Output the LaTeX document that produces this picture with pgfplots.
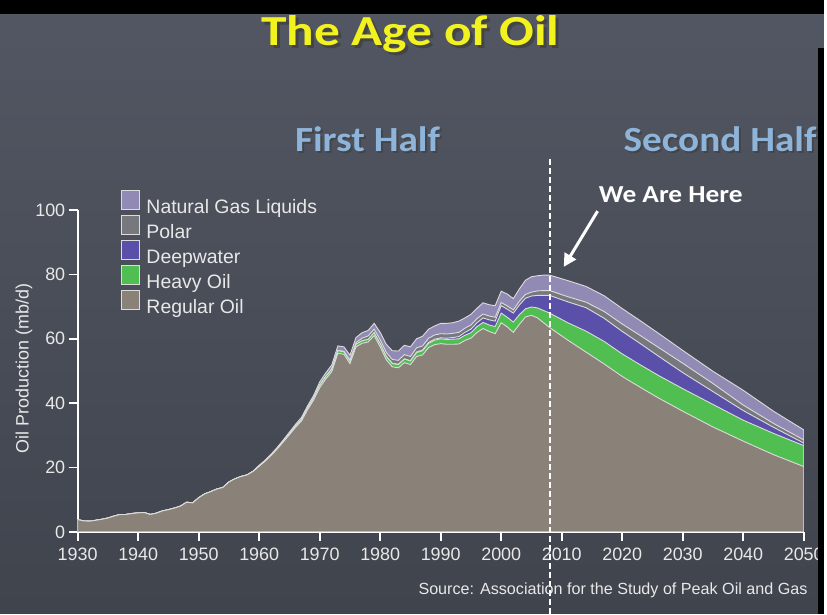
\documentclass[border=0pt]{standalone}
\usepackage{fontspec}
\setmainfont{Liberation Sans}
\newfontfamily\calib{Carlito}
\usepackage{pgfplots}
\pgfplotsset{compat=1.18}
\usepackage{pgfplotstable}
\usetikzlibrary{arrows.meta}
\definecolor{bgtop}{HTML}{525763}
\definecolor{bgbot}{HTML}{40444D}
\definecolor{cngl}{HTML}{918AB4}
\definecolor{cpol}{HTML}{76787D}
\definecolor{cdw}{HTML}{5A50AA}
\definecolor{chvy}{HTML}{50BE50}
\definecolor{creg}{HTML}{8A8279}
\definecolor{strokec}{HTML}{DCDCDC}
\definecolor{txt}{HTML}{E8E8E8}
\definecolor{ttlyellow}{HTML}{F2F21E}
\definecolor{halfblue}{HTML}{8EB4DA}
\pgfplotstableread{
year reg hvy dw pol ngl
1930 3.8 3.8 3.8 3.8 3.8
1931 3.4 3.4 3.4 3.4 3.4
1932 3.3 3.3 3.3 3.3 3.3
1933 3.6 3.6 3.6 3.6 3.6
1934 3.9 3.9 3.9 3.9 3.9
1935 4.3 4.3 4.3 4.3 4.3
1936 4.9 4.9 4.9 4.9 4.9
1937 5.4 5.4 5.4 5.4 5.4
1938 5.4 5.4 5.4 5.4 5.4
1939 5.7 5.7 5.7 5.7 5.7
1940 5.9 5.9 5.9 5.9 5.9
1941 6.0 6.0 6.0 6.0 6.0
1942 5.4 5.4 5.4 5.4 5.4
1943 5.8 5.8 5.8 5.8 5.8
1944 6.5 6.5 6.5 6.5 6.5
1945 6.9 6.9 6.9 6.9 6.9
1946 7.4 7.4 7.4 7.4 7.4
1947 8.0 8.0 8.0 8.0 8.0
1948 9.2 9.2 9.2 9.2 9.2
1949 9.0 9.0 9.0 9.0 9.0
1950 10.6 10.6 10.6 10.6 10.6
1951 11.8 11.8 11.8 11.8 11.8
1952 12.5 12.5 12.5 12.5 12.5
1953 13.3 13.3 13.3 13.3 13.3
1954 13.8 13.8 13.8 13.8 13.8
1955 15.5 15.5 15.5 15.5 15.5
1956 16.5 16.5 16.5 16.5 16.5
1957 17.2 17.2 17.2 17.2 17.2
1958 17.7 17.7 17.7 17.7 17.7
1959 18.8 18.8 18.8 18.8 18.9
1960 20.4 20.5 20.5 20.5 20.7
1961 22.0 22.1 22.1 22.1 22.3
1962 23.8 23.9 23.9 23.9 24.2
1963 25.8 26.0 26.0 26.0 26.3
1964 28.0 28.2 28.2 28.2 28.6
1965 30.2 30.5 30.5 30.5 31.0
1966 32.5 32.8 32.8 32.8 33.4
1967 34.5 34.9 34.9 34.9 35.6
1968 38.0 38.5 38.5 38.5 39.2
1969 41.0 41.6 41.6 41.6 42.4
1970 44.8 45.6 45.6 45.6 46.6
1971 47.5 48.3 48.3 48.3 49.4
1972 49.8 50.6 50.6 50.7 51.9
1973 55.5 56.3 56.3 56.4 57.8
1974 55.2 56.0 56.0 56.1 57.5
1975 52.3 53.1 53.1 53.4 54.9
1976 57.5 58.3 58.3 58.8 60.4
1977 58.6 59.4 59.4 60.2 61.9
1978 59.0 59.8 59.8 60.9 62.6
1979 61.0 61.9 61.9 63.0 64.8
1980 57.5 58.5 58.5 59.7 62.0
1981 53.5 54.5 54.6 55.8 58.3
1982 51.3 52.3 52.4 53.6 56.3
1983 51.0 52.0 52.1 53.3 56.2
1984 52.6 53.7 53.8 55.1 58.0
1985 52.0 53.1 53.2 54.5 57.5
1986 54.5 55.7 55.9 57.2 60.0
1987 55.0 56.3 56.5 57.8 60.8
1988 57.3 58.6 58.9 60.2 63.0
1989 58.2 59.6 59.9 61.2 64.0
1990 58.5 60.0 60.3 61.6 64.8
1991 58.3 59.8 60.2 61.5 64.8
1992 58.3 59.9 60.4 61.7 65.0
1993 58.4 60.0 60.7 62.0 65.5
1994 59.5 61.1 62.0 63.3 66.5
1995 60.2 61.9 63.0 64.3 67.6
1996 62.0 63.8 65.0 66.3 69.5
1997 63.2 65.1 66.5 67.7 71.2
1998 62.3 64.3 65.9 67.1 70.6
1999 61.6 63.8 65.5 66.7 70.3
2000 65.0 68.0 70.3 71.3 74.8
2001 63.7 66.7 69.2 70.2 73.9
2002 62.0 65.2 68.0 69.0 72.5
2003 64.5 67.5 70.5 71.7 75.5
2004 66.8 69.3 72.6 73.8 78.2
2005 67.3 69.9 73.3 74.5 79.3
2006 66.5 69.6 73.5 74.9 79.6
2007 65.0 68.8 73.5 75.0 79.8
2008 63.5 68.0 73.5 75.0 79.8
2011 59.6 65.0 71.5 73.1 78.1
2014 55.9 62.4 69.7 71.4 76.3
2017 52.2 59.2 66.4 68.5 73.4
2020 48.3 55.3 62.3 64.6 69.4
2023 44.9 51.9 58.5 61.0 65.6
2026 41.6 48.6 54.6 57.3 61.7
2030 37.5 44.5 49.5 52.4 56.4
2035 32.6 39.6 43.6 46.1 49.9
2040 28.2 34.7 37.7 39.4 44.0
2045 24.0 30.6 32.5 33.7 37.5
2050 20.3 26.8 27.6 28.6 31.7
}\oil
\begin{document}
\begin{tikzpicture}[x=1pt,y=1pt]
\shade[top color=bgtop, bottom color=bgbot] (0,0) rectangle (827,616);
\fill[black] (0,602) rectangle (827,616);
\begin{axis}[
  at={(78pt,82pt)}, anchor=south west, scale only axis,
  width=729pt, height=323pt,
  xmin=1930, xmax=2050, ymin=0, ymax=100,
  axis x line=bottom, axis y line=left,
  axis line style={-, white, line width=2pt},
  tick align=outside, major tick length=9pt,
  tick style={white, line width=1.8pt},
  xtick={1930,1940,...,2050}, ytick={0,20,...,100},
  minor tick num=0,
  ticklabel style={font=\fontsize{18}{18}\selectfont, text=txt},
  xticklabel style={yshift=-4pt},
  /pgf/number format/1000 sep={},
  /pgf/number format/assume math mode=true,
  ylabel={Oil Production (mb/d)},
  ylabel style={font=\fontsize{18}{18}\selectfont, text=txt, at={(axis description cs:-0.074,0.508)}, anchor=center},
  legend image code/.code={\draw[#1, line width=0.8pt] (0pt,-1.5pt) rectangle (18.5pt,17pt); \path (23pt,0pt);},
  legend style={draw=none, fill=none, font=\fontsize{19.5}{22}\selectfont, text=txt,
    at={(axis description cs:0.0549,1.069)}, anchor=north west, row sep=-2pt,
    cells={anchor=west}},
  legend cell align=left,
]
\addplot[fill=cngl, draw=strokec, line width=0.9pt] table[x=year,y=ngl]{\oil} \closedcycle;
\addlegendentry{Natural Gas Liquids}
\addplot[fill=cpol, draw=strokec, line width=0.9pt] table[x=year,y=pol]{\oil} \closedcycle;
\addlegendentry{Polar}
\addplot[fill=cdw, draw=strokec, line width=0.9pt] table[x=year,y=dw]{\oil} \closedcycle;
\addlegendentry{Deepwater}
\addplot[fill=chvy, draw=strokec, line width=0.9pt] table[x=year,y=hvy]{\oil} \closedcycle;
\addlegendentry{Heavy Oil}
\addplot[fill=creg, draw=strokec, line width=0.9pt] table[x=year,y=reg]{\oil} \closedcycle;
\addlegendentry{Regular Oil}
\end{axis}
\draw[white, line width=2pt, dash pattern=on 6pt off 3pt] (552,0) -- (552,456);
\draw[white, line width=3pt, -{Triangle[length=13pt,width=13pt]}] (600,404) -- (566,348);
\node[anchor=base west, inner sep=0, text=txt, font=\fontsize{16.2}{16.2}\selectfont] at (420,19) {Source: Association for the Study of Peak Oil and Gas};
% titles
\node[anchor=base west, inner sep=0, text=black!75, opacity=0.8] at (265,567.5) {\scalebox{1.2}[1]{\calib\bfseries\fontsize{43}{43}\selectfont The Age of Oil}};
\node[anchor=base west, inner sep=0, text=ttlyellow] at (262,570) {\scalebox{1.2}[1]{\calib\bfseries\fontsize{43}{43}\selectfont The Age of Oil}};
\node[anchor=base west, inner sep=0, text=black!75, opacity=0.7] at (298,462) {\scalebox{1.11}[1]{\calib\bfseries\fontsize{35.5}{35.5}\selectfont First Half}};
\node[anchor=base west, inner sep=0, text=halfblue] at (296,464) {\scalebox{1.11}[1]{\calib\bfseries\fontsize{35.5}{35.5}\selectfont First Half}};
\node[anchor=base west, inner sep=0, text=black!75, opacity=0.7] at (628,462) {\scalebox{1.11}[1]{\calib\bfseries\fontsize{35.5}{35.5}\selectfont Second Half}};
\node[anchor=base west, inner sep=0, text=halfblue] at (626,464) {\scalebox{1.11}[1]{\calib\bfseries\fontsize{35.5}{35.5}\selectfont Second Half}};
\node[anchor=base west, inner sep=0, text=white] at (601,413) {\scalebox{1.12}[1]{\calib\bfseries\fontsize{24.5}{24.5}\selectfont We Are Here}};
\fill[black] (821,0) rectangle (827,568);
\end{tikzpicture}
\end{document}
